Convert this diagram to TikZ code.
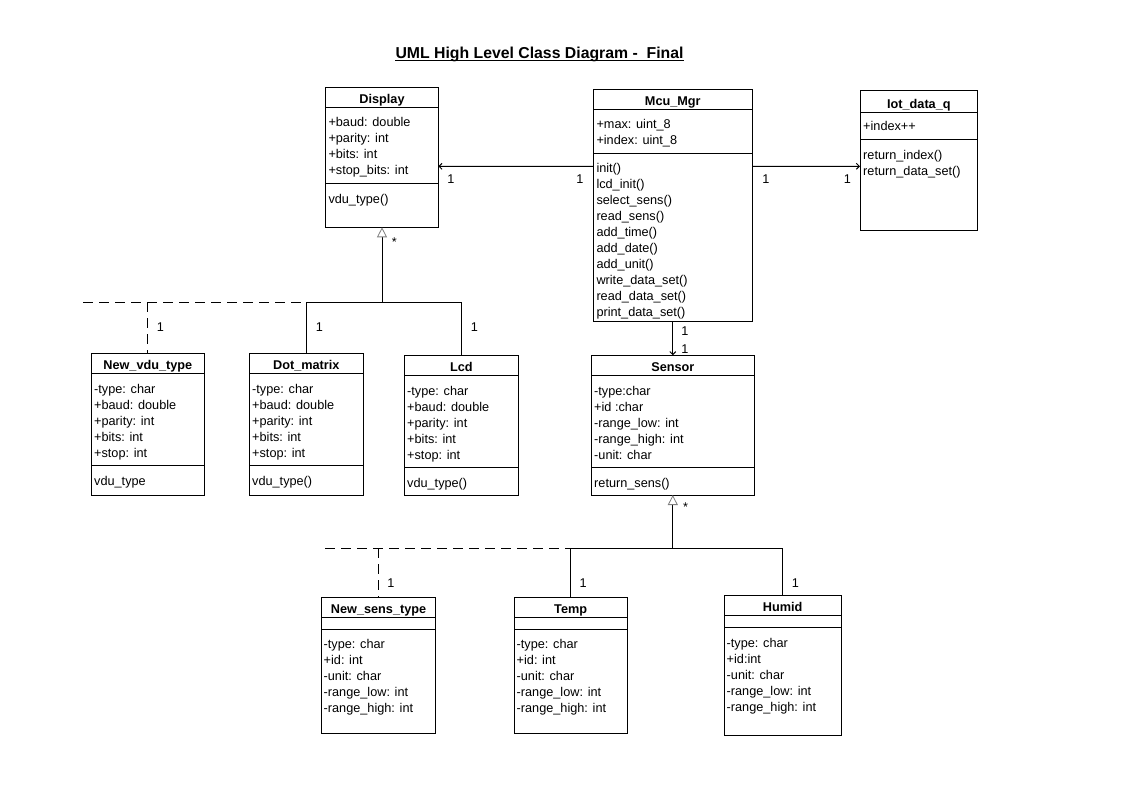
\documentclass[tikz,border=0pt]{standalone}
\usepackage{fontspec}
\setmainfont{Liberation Sans}
\usetikzlibrary{arrows.meta,fit}
\newcommand\umlclass[8]{%
  \node[classbox, fit={(#2,#3) (#4,#5)}] (#1) {};
  \draw[conn] (#2,#6) -- (#4,#6);
  \draw[conn] (#2,#7) -- (#4,#7);
  \node[ctitle] (#1-title) at ({(#2+#4)/2},{#6-4}) {#8};
}
\newcommand\memberlist[4]{%
  \foreach \t [count=\i] in {#4}
    \node[member] (#1-\i) at (#2,{#3+16*(\i-1)}) {\t};
}
\begin{document}
\begin{tikzpicture}[x=1pt,y=-1pt,
  font=\fontsize{12.7}{16}\selectfont,
  conn/.style={line width=1pt},
  classbox/.style={draw, line width=1pt, inner sep=0pt, outer sep=0pt},
  member/.style={anchor=base west, inner sep=0pt},
  ctitle/.style={anchor=base, inner sep=0pt, font=\fontsize{12.7}{16}\selectfont\bfseries},
  mult/.style={anchor=base, inner sep=0pt},
  assoc/.style={conn, -{Straight Barb[length=3pt,width=6pt,line width=1pt]}},
  gen/.style={conn, -{Triangle[open,length=10pt,width=10pt,color=gray,line width=0.8pt]}},
  realize/.style={conn, dash pattern=on 10pt off 6pt},
]
\useasboundingbox (0,0) rectangle (1123,794);

% title
\node[anchor=base, inner sep=0pt, font=\fontsize{15.8}{19}\selectfont\bfseries] (title) at (539.5,58.3) {UML High Level Class Diagram -\ \ Final};
\draw[line width=1.3pt] ([yshift=-2.3pt]title.base west) -- ([yshift=-2.3pt]title.base east);

% classes
\umlclass{disp}{325.7}{87.3}{438.3}{227.3}{107.7}{183.3}{Display}
\memberlist{disp-a}{328.3}{126.7}{+baud: double,+parity: int,+bits: int,+stop\_bits: int}
\memberlist{disp-m}{328.3}{203.3}{vdu\_type()}

\umlclass{mcu}{593.3}{89.3}{752.3}{321}{109.3}{153.3}{Mcu\_Mgr}
\memberlist{mcu-a}{596.3}{128.7}{+max: uint\_8,+index: uint\_8}
\memberlist{mcu-m}{596.3}{172.7}{init(),lcd\_init(),select\_sens(),read\_sens(),add\_time(),add\_date(),add\_unit(),write\_data\_set(),read\_data\_set(),print\_data\_set()}

\umlclass{iot}{860}{91}{977.7}{231}{112.3}{139.3}{Iot\_data\_q}
\memberlist{iot-a}{863}{131}{+index++}
\memberlist{iot-m}{863}{159.7}{return\_index(),return\_data\_set()}

\umlclass{nvdu}{91.3}{353.3}{204.3}{495.3}{373.3}{465.3}{New\_vdu\_type}
\memberlist{nvdu-a}{94}{393}{-type: char,+baud: double,+parity: int,+bits: int,+stop: int}
\memberlist{nvdu-m}{94}{485}{vdu\_type}

\umlclass{dotm}{249.3}{353.7}{363.3}{495.3}{373.3}{465.3}{Dot\_matrix}
\memberlist{dotm-a}{252}{393}{-type: char,+baud: double,+parity: int,+bits: int,+stop: int}
\memberlist{dotm-m}{252}{485}{vdu\_type()}

\umlclass{lcd}{404.3}{355.3}{518.3}{495.3}{375.3}{467.3}{Lcd}
\memberlist{lcd-a}{407}{395}{-type: char,+baud: double,+parity: int,+bits: int,+stop: int}
\memberlist{lcd-m}{407}{487}{vdu\_type()}

\umlclass{sens}{591.3}{355.3}{754.3}{495}{375.3}{467.7}{Sensor}
\memberlist{sens-a}{594}{395}{-type:char,+id :char,-range\_low: int,-range\_high: int,-unit: char}
\memberlist{sens-m}{594}{487.5}{return\_sens()}

\umlclass{nsens}{321.4}{597.3}{435.7}{733.3}{617.3}{629.3}{New\_sens\_type}
\memberlist{nsens-a}{323.5}{648.7}{-type: char,+id: int,-unit: char,-range\_low: int,-range\_high: int}

\umlclass{temp}{514.3}{597.3}{627.1}{733.3}{617.3}{629.3}{Temp}
\memberlist{temp-a}{516.5}{648.7}{-type: char,+id: int,-unit: char,-range\_low: int,-range\_high: int}

\umlclass{humid}{724.3}{595.3}{841.1}{735.3}{615.3}{627.3}{Humid}
\memberlist{humid-a}{726.5}{647}{-type: char,+id:int,-unit: char,-range\_low: int,-range\_high: int}

% associations
\draw[assoc] ([yshift=-77pt]mcu.north west) -- ([yshift=-79pt]disp.north east);
\draw[assoc] ([yshift=-77pt]mcu.north east) -- ([yshift=-75.3pt]iot.north west);
\draw[assoc] (mcu.south) -- (sens.north);

\node[mult] (m1) at (451,183.5) {1};
\node[mult] (m2) at (580,183.5) {1};
\node[mult] (m3) at (766,183.8) {1};
\node[mult] (m4) at (847.3,183.8) {1};
\node[mult] (m5) at (685,335.2) {1};
\node[mult] (m6) at (685,353.8) {1};

% display generalization
\path (disp.south) ++(0,75) coordinate (dbus);
\coordinate (dleft) at (83.3,302.3);
\draw[gen] (dbus) -- (disp.south);
\draw[conn] (dotm.north) |- (dbus);
\draw[conn] (lcd.north) |- (dbus);
\draw[realize] (dleft) -- (dotm.north |- dbus);
\draw[realize] (nvdu.north |- dbus) -- (nvdu.north);
\node[mult] (s1) at (394.3,246.5) {*};
\node[mult] (m7) at (160.3,331.2) {1};
\node[mult] (m8) at (319.3,331.2) {1};
\node[mult] (m9) at (474.3,331.2) {1};

% sensor generalization
\path (sens.south) ++(0,53.3) coordinate (sbus);
\coordinate (sleft) at (325,548.3);
\draw[gen] (sbus) -- (sens.south);
\draw[conn] (temp.north) |- (sbus);
\draw[conn] (humid.north) |- (sbus);
\draw[realize] (sleft) -- (temp.north |- sbus);
\draw[realize] (nsens.north |- sbus) -- (nsens.north);
\node[mult] (s2) at (685.7,511) {*};
\node[mult] (m10) at (391,587.8) {1};
\node[mult] (m11) at (583.2,587.8) {1};
\node[mult] (m12) at (795.4,587.8) {1};
\end{tikzpicture}
\end{document}
